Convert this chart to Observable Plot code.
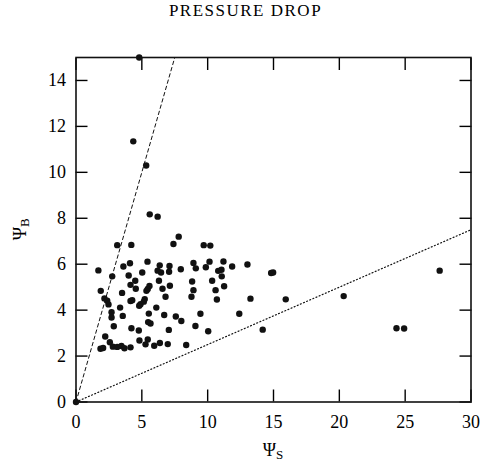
<!DOCTYPE html>
<html><head><meta charset="utf-8">
<script src="https://cdn.jsdelivr.net/npm/d3@7"></script>
<script src="https://cdn.jsdelivr.net/npm/@observablehq/plot@0.6"></script>
<style>
body{margin:0;background:#fff;}
#title{height:30px;width:491px;text-align:center;font-family:"Liberation Serif",serif;font-size:17px;letter-spacing:1.5px;line-height:22px;color:#000;}
</style></head><body>
<div id="title">PRESSURE DROP</div>
<div id="chart"></div>
<script>
const psiS = [0, 4.8, 4.35, 5.33, 5.6, 6.2, 7.8, 7.4, 3.13, 4.2, 9.7, 10.2,
  1.7, 2.75, 3.6, 4.1, 5.43, 5.03, 4.0, 4.5, 4.14, 4.54, 6.36, 6.2, 6.46, 7.1, 7.07, 7.96,
  6.3, 5.58, 5.45, 5.35, 6.57, 7.13, 6.8, 1.88, 2.16, 2.37, 2.47, 3.5, 4.14, 4.27, 5.22,
  4.9, 4.8, 2.7, 3.35, 2.7, 3.55, 2.87, 6.1, 5.53, 5.48, 5.66, 6.7, 7.05, 7.58, 8.0,
  4.21, 4.77, 2.22, 2.57, 2.8, 1.86, 2.06, 3.45, 3.68, 4.14, 4.82, 5.28, 5.45, 5.94,
  6.37, 6.97, 8.37, 8.82, 8.92, 8.77, 8.92, 9.1, 9.86, 10.14, 9.45, 9.07, 10.04, 10.34,
  10.6, 10.7, 11.2, 10.8, 11.05, 11.07, 11.25, 11.86, 12.4, 13.02, 13.25, 14.82, 14.97,
  15.93, 14.18, 20.33, 24.34, 24.92, 27.62, 5.15, 3.13];
const psiB = [0, 15, 11.35, 10.3, 8.17, 8.07, 7.2, 6.88, 6.83, 6.84, 6.83, 6.81,
  5.73, 5.47, 5.9, 6.04, 6.11, 5.64, 5.51, 5.28, 5.1, 4.93, 5.95, 5.72, 5.64, 5.92, 5.67, 5.78,
  5.28, 5.05, 4.92, 4.84, 4.93, 5.06, 4.58, 4.84, 4.51, 4.41, 4.25, 4.75, 4.4, 4.43, 4.48,
  4.26, 4.19, 3.91, 4.11, 3.68, 3.75, 3.3, 4.11, 3.85, 3.48, 3.42, 3.79, 3.14, 3.72, 3.53,
  3.21, 3.11, 2.85, 2.6, 2.41, 2.32, 2.35, 2.44, 2.34, 2.38, 2.68, 2.51, 2.72, 2.45,
  2.57, 2.52, 2.48, 5.25, 4.87, 4.58, 6.05, 5.82, 5.87, 6.11, 3.84, 3.31, 3.08, 5.28,
  4.87, 4.46, 6.12, 5.71, 5.76, 5.47, 5.04, 5.9, 3.84, 5.99, 4.5, 5.62, 5.64,
  4.47, 3.15, 4.61, 3.21, 3.2, 5.72, 4.37, 2.4];
const xTicks = [0, 5, 10, 15, 20, 25, 30];
const yTicks = [0, 2, 4, 6, 8, 10, 12, 14];
const dashedX = [0, 7.5], dashedY = [0, 15];
const dottedX = [0, 30], dottedY = [0, 7.5];

const points = psiS.map((s, i) => ({s, b: psiB[i]}));
const dashed = dashedX.map((x, i) => ({x, y: dashedY[i]}));
const dotted = dottedX.map((x, i) => ({x, y: dottedY[i]}));

const font = "Liberation Serif, serif";
const W = 481, H = 434;
const ml = 75.5, mr = 10.5, mt = 27, mb = 62.5;

const plot = Plot.plot({
  width: W, height: H,
  marginLeft: ml, marginRight: mr, marginTop: mt, marginBottom: mb,
  style: {fontFamily: font, fontSize: "18px", color: "#000", background: "#fff", overflow: "visible"},
  x: {domain: [0, 30]},
  y: {domain: [0, 15]},
  marks: [
    Plot.line(dashed, {x: "x", y: "y", stroke: "#111", strokeWidth: 1, strokeDasharray: "3.5,3"}),
    Plot.line(dotted, {x: "x", y: "y", stroke: "#111", strokeWidth: 1.2, strokeDasharray: "1,2.4"}),
    Plot.axisX({anchor: "bottom", ticks: xTicks, tickSize: 0, tickPadding: 13, label: null, fontSize: 18}),
    Plot.axisY({anchor: "left", ticks: yTicks, tickSize: 0, tickPadding: 10, label: null, fontSize: 18}),
    Plot.axisX({anchor: "bottom", ticks: xTicks, tickSize: -12, fill: "none", label: null, strokeWidth: 1.4}),
    Plot.axisX({anchor: "top", ticks: xTicks, tickSize: -12, fill: "none", label: null, strokeWidth: 1.4}),
    Plot.axisY({anchor: "left", ticks: yTicks, tickSize: -12, fill: "none", label: null, strokeWidth: 1.4}),
    Plot.axisY({anchor: "right", ticks: yTicks, tickSize: -12, fill: "none", label: null, strokeWidth: 1.4}),
    Plot.frame({stroke: "#111", strokeWidth: 1.6}),
    Plot.dot(points, {x: "s", y: "b", r: 3.2, fill: "#111", stroke: "none"})
  ]
});
document.getElementById("chart").appendChild(plot);

const svg = d3.select(plot);
const xl = svg.append("text")
  .attr("x", (ml + W - mr) / 2).attr("y", 426)
  .attr("text-anchor", "middle").attr("font-family", font).attr("font-size", 18).attr("fill", "#000");
xl.append("tspan").text("Ψ");
xl.append("tspan").attr("font-size", 13).attr("dy", 3).text("S");
const yl = svg.append("text")
  .attr("transform", `translate(26,${(mt + H - mb) / 2}) rotate(-90)`)
  .attr("text-anchor", "middle").attr("font-family", font).attr("font-size", 18).attr("fill", "#000");
yl.append("tspan").text("Ψ");
yl.append("tspan").attr("font-size", 13).attr("dy", 3).text("B");
</script>
</body></html>
